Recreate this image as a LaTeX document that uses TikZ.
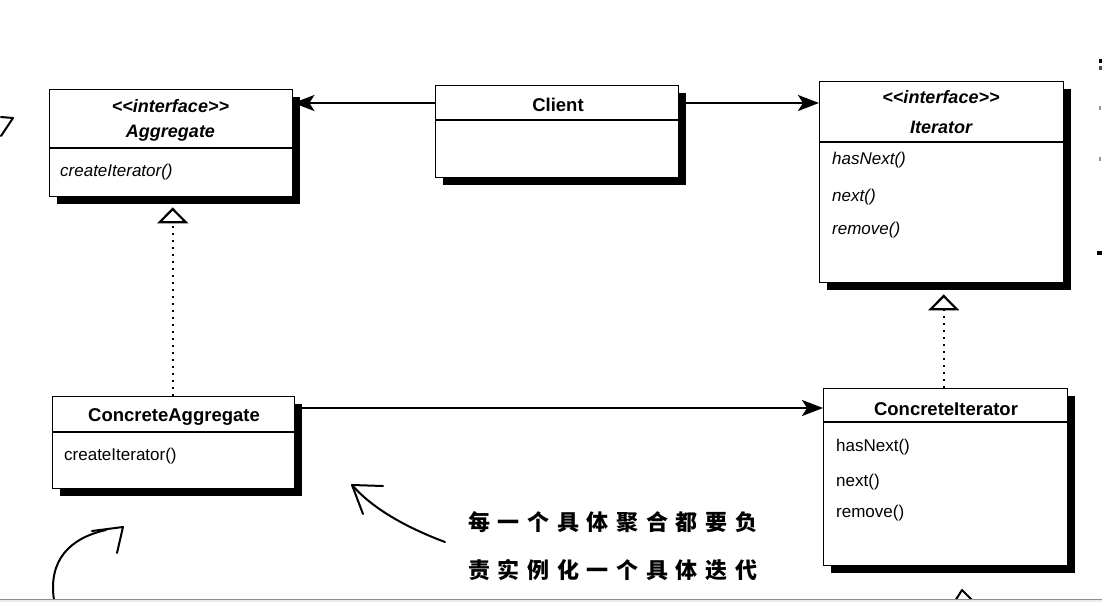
\documentclass[tikz,border=0pt]{standalone}
\usepackage{fontspec}
\setmainfont{Liberation Sans}
\newfontfamily\cjk{Noto Sans CJK SC}
\usetikzlibrary{arrows.meta,shadows}
\newcommand\cjkc[1]{\makebox[29.7pt][c]{#1}}
\newcommand\ltlt{<\kern0pt<}
\newcommand\gtgt{>\kern0pt>}
\begin{document}
\begin{tikzpicture}[x=1pt,y=-1pt,
  umlbox/.style={draw=black, line width=1.4pt, fill=white, anchor=north west, inner sep=0pt,
    drop shadow={shadow xshift=7pt, shadow yshift=-7pt, fill=black, opacity=1}},
  divider/.style={line width=1.3pt},
  ttl/.style={inner sep=0pt, font=\fontsize{18.5}{21}\selectfont\bfseries},
  ittl/.style={inner sep=0pt, font=\fontsize{18}{21}\selectfont\bfseries\itshape},
  meth/.style={inner sep=0pt, anchor=west, font=\fontsize{17}{20}\selectfont},
  imeth/.style={inner sep=0pt, anchor=west, font=\fontsize{17}{20}\selectfont\itshape},
  assoc/.style={line width=2.2pt, -{Stealth[length=21pt,width=16pt,inset=5pt]}},
  realize/.style={line width=2pt, dash pattern=on 2pt off 5pt,
    -{Triangle[open, length=16pt, width=31pt, line width=2.2pt, sep=0pt]}},
  note/.style={inner sep=0pt, anchor=west, font=\cjk\bfseries\fontsize{22}{24}\selectfont},
  hand/.style={line width=2pt, line cap=round, line join=round}
]
\useasboundingbox (0,0) rectangle (1102,602);
\fill[white] (0,0) rectangle (1102,602);

% boxes
\node[umlbox, minimum width=243pt, minimum height=107pt] (agg) at (49,89) {};
\draw[divider] ([yshift=-59pt]agg.north west) -- ([yshift=-59pt]agg.north east);
\node[ittl] (aggst) at (170.5,106) {\ltlt interface\gtgt};
\node[ittl] (aggnm) at (170.5,133) {Aggregate};
\node[imeth] (aggm1) at (60,172) {createIterator()};

\node[umlbox, minimum width=243pt, minimum height=92pt] (client) at (435,85) {};
\draw[divider] ([yshift=-35pt]client.north west) -- ([yshift=-35pt]client.north east);
\node[ttl] (clientnm) at (558,105) {Client};

\node[umlbox, minimum width=244pt, minimum height=201pt] (iter) at (819,81) {};
\draw[divider] ([yshift=-61pt]iter.north west) -- ([yshift=-61pt]iter.north east);
\node[ittl] (iterst) at (941,97) {\ltlt interface\gtgt};
\node[ittl] (iternm) at (941,127) {Iterator};
\node[imeth] (iterm1) at (832,160) {hasNext()};
\node[imeth] (iterm2) at (832,197) {next()};
\node[imeth] (iterm3) at (832,230) {remove()};

\node[umlbox, minimum width=242pt, minimum height=92pt] (cagg) at (52,396) {};
\draw[divider] ([yshift=-36pt]cagg.north west) -- ([yshift=-36pt]cagg.north east);
\node[ttl] (caggnm) at (174,417) {ConcreteAggregate};
\node[meth] (caggm1) at (64,456) {createIterator()};

\node[umlbox, minimum width=244pt, minimum height=177pt] (citer) at (823,388) {};
\draw[divider] ([yshift=-34pt]citer.north west) -- ([yshift=-34pt]citer.north east);
\node[ttl] (citernm) at (946,409) {ConcreteIterator};
\node[meth] (citerm1) at (836,447) {hasNext()};
\node[meth] (citerm2) at (836,482) {next()};
\node[meth] (citerm3) at (836,513) {remove()};

% associations
\draw[assoc] ([yshift=-18pt]client.north west) -- ([yshift=-14pt]agg.north east);
\draw[assoc] ([xshift=7pt,yshift=-18pt]client.north east) -- ([yshift=-22pt]iter.north west);
\draw[assoc] ([xshift=7pt,yshift=-12pt]cagg.north east) -- ([yshift=-20pt]citer.north west);

% realizations
\coordinate (aggtip) at ([xshift=1.5pt,yshift=-10pt]agg.south);
\coordinate (itertip) at ([xshift=2pt,yshift=-11pt]iter.south);
\draw[realize] (cagg.north -| aggtip) -- (aggtip);
\draw[realize] (citer.north -| itertip) -- (itertip);

% note text
\node[note] (n1) at (464,522) {\cjkc{每}\cjkc{一}\cjkc{个}\cjkc{具}\cjkc{体}\cjkc{聚}\cjkc{合}\cjkc{都}\cjkc{要}\cjkc{负}};
\node[note] (n2) at (464,570) {\cjkc{责}\cjkc{实}\cjkc{例}\cjkc{化}\cjkc{一}\cjkc{个}\cjkc{具}\cjkc{体}\cjkc{迭}\cjkc{代}};

% hand-drawn arrows
\coordinate (a1s) at (445,542);
\coordinate (a1t) at (352,485);
\draw[hand] (a1s) .. controls (405,527) and (372,508) .. (a1t);
\draw[hand] (383,486) -- (a1t) -- (363,514);

\coordinate (a2s) at (54,600);
\coordinate (a2t) at (123,527);
\draw[hand] (a2s) .. controls (48,560) and (70,538) .. (106,530);
\draw[hand] (92,531) -- (a2t) -- (117,553);

\draw[hand] (1,117) -- (13,118) -- (1,136);
\draw[hand] (955,601) -- (962,590) -- (973,601);

% right-edge fragments
\fill[black] (1099,59) rectangle (1102,63);
\fill[black!70] (1099,66) rectangle (1102,70);
\fill[black!40] (1099,106) rectangle (1101,110);
\fill[black!40] (1099,157) rectangle (1101,161);
\fill[black] (1097,251) rectangle (1102,255);

% bottom page edge
\fill[black!8] (0,599) rectangle (1102,602);
\draw[black!45, line width=1pt] (0,599) -- (1102,599);
\end{tikzpicture}
\end{document}
